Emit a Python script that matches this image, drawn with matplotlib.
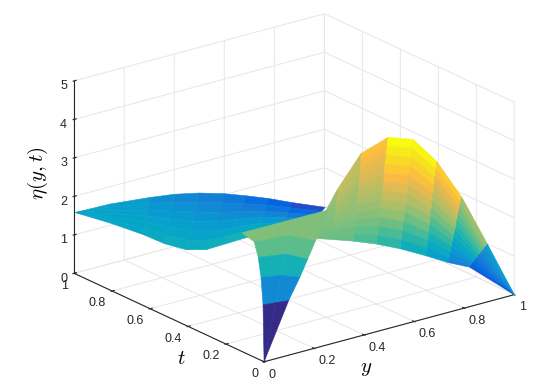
import matplotlib
matplotlib.use("Agg")
import matplotlib.pyplot as plt
import numpy as np
from matplotlib.colors import LinearSegmentedColormap

plt.rcParams["font.family"] = ["Liberation Sans", "DejaVu Sans"]
plt.rcParams["mathtext.fontset"] = "cm"

y_ticks = [0, 0.2, 0.4, 0.6, 0.8, 1]
t_ticks = [0, 0.2, 0.4, 0.6, 0.8, 1]
eta_ticks = [0, 1, 2, 3, 4, 5]
tick_text = ["0", "0.2", "0.4", "0.6", "0.8", "1"]

parula_stops = [
    (0.2081, 0.1663, 0.5292), (0.1959, 0.2645, 0.7279), (0.0117, 0.3875, 0.8820),
    (0.0498, 0.4586, 0.8641), (0.0793, 0.5200, 0.8312), (0.0343, 0.5966, 0.8199),
    (0.0228, 0.6535, 0.7768), (0.0843, 0.6928, 0.7062), (0.2178, 0.7250, 0.6193),
    (0.3953, 0.7459, 0.5244), (0.5709, 0.7485, 0.4494), (0.7184, 0.7411, 0.3905),
    (0.8507, 0.7299, 0.3360), (0.9739, 0.7314, 0.2666), (0.9880, 0.8066, 0.1794),
    (0.9589, 0.8949, 0.1132), (0.9763, 0.9831, 0.0538),
]

# left wing of the surface
y_left = [
    [0.103, 0.103, 0.103, 0.103, 0.103, 0.103, 0.103],
    [0.258, 0.236, 0.213, 0.191, 0.169, 0.146, 0.124],
    [0.426, 0.376, 0.325, 0.275, 0.225, 0.174, 0.124],
    [0.521, 0.454, 0.387, 0.320, 0.252, 0.185, 0.118],
    [0.608, 0.530, 0.452, 0.375, 0.297, 0.219, 0.141],
    [0.688, 0.604, 0.519, 0.435, 0.350, 0.266, 0.181],
    [0.753, 0.668, 0.583, 0.499, 0.414, 0.329, 0.244],
    [0.821, 0.742, 0.664, 0.585, 0.506, 0.428, 0.349],
    [0.885, 0.812, 0.738, 0.665, 0.592, 0.518, 0.445],
    [0.979, 0.906, 0.833, 0.760, 0.687, 0.614, 0.541],
]
t_left = [
    [1.131, 1.131, 1.131, 1.131, 1.131, 1.131, 1.131],
    [1.152, 1.122, 1.093, 1.064, 1.034, 1.005, 0.975],
    [1.164, 1.104, 1.043, 0.983, 0.923, 0.862, 0.802],
    [1.159, 1.079, 0.999, 0.920, 0.840, 0.760, 0.680],
    [1.142, 1.051, 0.959, 0.868, 0.777, 0.685, 0.594],
    [1.117, 1.021, 0.926, 0.830, 0.734, 0.639, 0.543],
    [1.088, 0.993, 0.899, 0.804, 0.709, 0.615, 0.520],
    [1.057, 0.966, 0.876, 0.785, 0.694, 0.604, 0.513],
    [1.020, 0.935, 0.850, 0.765, 0.679, 0.594, 0.509],
    [0.968, 0.891, 0.814, 0.737, 0.659, 0.582, 0.505],
]
eta_left = [
    [1.10, 1.10, 1.10, 1.10, 1.10, 1.10, 1.10],
    [1.00, 1.03, 1.05, 1.08, 1.10, 1.13, 1.15],
    [0.85, 0.92, 0.98, 1.05, 1.12, 1.18, 1.25],
    [0.78, 0.87, 0.95, 1.04, 1.13, 1.21, 1.30],
    [0.70, 0.80, 0.90, 1.00, 1.10, 1.20, 1.30],
    [0.60, 0.73, 0.85, 0.98, 1.10, 1.23, 1.35],
    [0.50, 0.66, 0.82, 0.98, 1.13, 1.29, 1.45],
    [0.38, 0.56, 0.74, 0.94, 1.12, 1.31, 1.50],
    [0.25, 0.44, 0.63, 0.83, 1.02, 1.21, 1.40],
    [0.08, 0.28, 0.49, 0.69, 0.89, 1.10, 1.30],
]

# arch on the right, first row is the crest
y_right = [
    [0.588, 0.576, 0.564, 0.552, 0.541, 0.529, 0.517, 0.505, 0.493, 0.481, 0.470, 0.458, 0.446],
    [0.675, 0.660, 0.644, 0.629, 0.614, 0.598, 0.583, 0.568, 0.552, 0.537, 0.522, 0.506, 0.491],
    [0.857, 0.833, 0.809, 0.785, 0.761, 0.737, 0.713, 0.689, 0.665, 0.641, 0.617, 0.593, 0.569],
    [0.908, 0.887, 0.866, 0.844, 0.823, 0.802, 0.781, 0.759, 0.738, 0.717, 0.696, 0.674, 0.653],
    [0.971, 0.951, 0.931, 0.911, 0.891, 0.871, 0.851, 0.830, 0.810, 0.790, 0.770, 0.750, 0.730],
    [0.984, 0.969, 0.953, 0.938, 0.922, 0.907, 0.892, 0.876, 0.861, 0.845, 0.830, 0.814, 0.799],
    [0.990, 0.981, 0.972, 0.963, 0.954, 0.945, 0.936, 0.926, 0.917, 0.908, 0.899, 0.890, 0.881],
    [0.997, 0.996, 0.995, 0.994, 0.993, 0.992, 0.991, 0.989, 0.988, 0.987, 0.986, 0.985, 0.984],
    [1.000, 1.000, 1.000, 1.000, 1.000, 1.000, 1.000, 1.000, 1.000, 1.000, 1.000, 1.000, 1.000],
]
t_right = [
    [0.446, 0.435, 0.424, 0.414, 0.403, 0.392, 0.381, 0.370, 0.359, 0.349, 0.338, 0.327, 0.316],
    [0.503, 0.485, 0.468, 0.450, 0.433, 0.415, 0.398, 0.380, 0.362, 0.345, 0.327, 0.310, 0.292],
    [0.618, 0.590, 0.562, 0.533, 0.505, 0.477, 0.449, 0.420, 0.392, 0.364, 0.336, 0.307, 0.279],
    [0.543, 0.520, 0.498, 0.475, 0.452, 0.430, 0.407, 0.384, 0.361, 0.339, 0.316, 0.293, 0.270],
    [0.495, 0.474, 0.453, 0.433, 0.412, 0.391, 0.370, 0.349, 0.328, 0.308, 0.287, 0.266, 0.245],
    [0.387, 0.372, 0.356, 0.341, 0.325, 0.310, 0.294, 0.279, 0.263, 0.248, 0.232, 0.217, 0.201],
    [0.264, 0.258, 0.252, 0.246, 0.240, 0.235, 0.229, 0.223, 0.217, 0.211, 0.205, 0.199, 0.193],
    [0.137, 0.143, 0.150, 0.156, 0.163, 0.169, 0.176, 0.182, 0.188, 0.195, 0.201, 0.207, 0.214],
    [0.000, 0.000, 0.000, 0.000, 0.000, 0.000, 0.000, 0.000, 0.000, 0.000, 0.000, 0.000, 0.000],
]
eta_right = [
    [1.90, 1.88, 1.87, 1.85, 1.83, 1.82, 1.80, 1.78, 1.77, 1.75, 1.73, 1.72, 1.70],
    [2.15, 2.11, 2.07, 2.03, 1.98, 1.94, 1.90, 1.86, 1.82, 1.78, 1.73, 1.69, 1.65],
    [2.50, 2.42, 2.33, 2.25, 2.17, 2.08, 2.00, 1.92, 1.83, 1.75, 1.67, 1.58, 1.50],
    [3.00, 2.86, 2.72, 2.57, 2.43, 2.29, 2.15, 2.01, 1.87, 1.72, 1.58, 1.44, 1.30],
    [2.95, 2.80, 2.64, 2.49, 2.33, 2.18, 2.03, 1.87, 1.72, 1.56, 1.41, 1.25, 1.10],
    [2.60, 2.46, 2.32, 2.17, 2.03, 1.89, 1.75, 1.61, 1.47, 1.32, 1.18, 1.04, 0.90],
    [1.95, 1.84, 1.73, 1.61, 1.50, 1.39, 1.28, 1.16, 1.05, 0.94, 0.83, 0.71, 0.60],
    [1.00, 0.94, 0.88, 0.81, 0.75, 0.69, 0.63, 0.56, 0.50, 0.44, 0.38, 0.31, 0.25],
    [0.00, 0.00, 0.00, 0.00, 0.00, 0.00, 0.00, 0.00, 0.00, 0.00, 0.00, 0.00, 0.00],
]

# steep front piece near y=0, t=0
y_front = [
    [0.000, 0.000, 0.000],
    [0.140, 0.184, 0.228],
    [0.179, 0.241, 0.278],
    [0.208, 0.296, 0.324],
    [0.251, 0.372, 0.413],
    [0.227, 0.414, 0.572],
]
t_front = [
    [0.000, 0.000, 0.000],
    [0.190, 0.180, 0.171],
    [0.252, 0.229, 0.178],
    [0.305, 0.275, 0.197],
    [0.383, 0.361, 0.273],
    [0.415, 0.415, 0.414],
]
eta_front = [
    [0.00, 0.00, 0.00],
    [0.80, 0.80, 0.80],
    [1.30, 1.30, 1.30],
    [1.65, 1.65, 1.65],
    [1.80, 1.80, 1.80],
    [2.00, 2.00, 2.00],
]

parula = LinearSegmentedColormap.from_list("parula", parula_stops)

fig = plt.figure(figsize=(5.45, 3.87), dpi=100)
ax = fig.add_axes([16.5 / 545, 0.5 / 387, 1, 1], projection="3d", proj_type="ortho")
ax.computed_zorder = False
ax.view_init(elev=20.7, azim=-127.2)
ax.set_box_aspect((1, 1, 0.655), zoom=1.228)

for order, (ys, ts, etas) in enumerate(
    [(y_left, t_left, eta_left), (y_right, t_right, eta_right), (y_front, t_front, eta_front)]
):
    etas = np.array(etas)
    ax.plot_surface(
        np.array(ys), np.array(ts), etas,
        facecolors=parula(etas / 3.0),
        shade=False, linewidth=0.4, zorder=order + 3, clip_on=False,
    )

ax.set_xlim(0, 1, view_margin=0)
ax.set_ylim(0, 1, view_margin=0)
ax.set_zlim(0, 5, view_margin=0)
ax.set_xticks(y_ticks, tick_text)
ax.set_yticks(t_ticks, tick_text)
ax.set_zticks(eta_ticks, [str(v) for v in eta_ticks])

for axis in (ax.xaxis, ax.yaxis, ax.zaxis):
    axis.set_pane_color((1, 1, 1, 0))
    axis.pane.set_edgecolor("#e0e0e0")
    axis.line.set_color("#262626")
    axis.line.set_linewidth(0.8)
    axis._axinfo["grid"].update(color="#e6e6e6", linewidth=0.7)
    axis._axinfo["tick"].update(inward_factor=0.05, outward_factor=0.1, color="#262626")
ax.tick_params(labelsize=9, colors="#262626", pad=-4.5)
for label in ax.get_xticklabels():
    label.set_ha("left")
for label in ax.get_yticklabels():
    label.set_ha("right")

fig.text(366 / 545, 1 - 368 / 387, r"$y$", fontsize=15, ha="center", va="center")
fig.text(181 / 545, 1 - 358 / 387, r"$t$", fontsize=15, ha="center", va="center")
fig.text(38 / 545, 1 - 173 / 387, r"$\eta(y,t)$", fontsize=15, rotation=90, ha="center", va="center")

fig.savefig("out.png", dpi=100)
